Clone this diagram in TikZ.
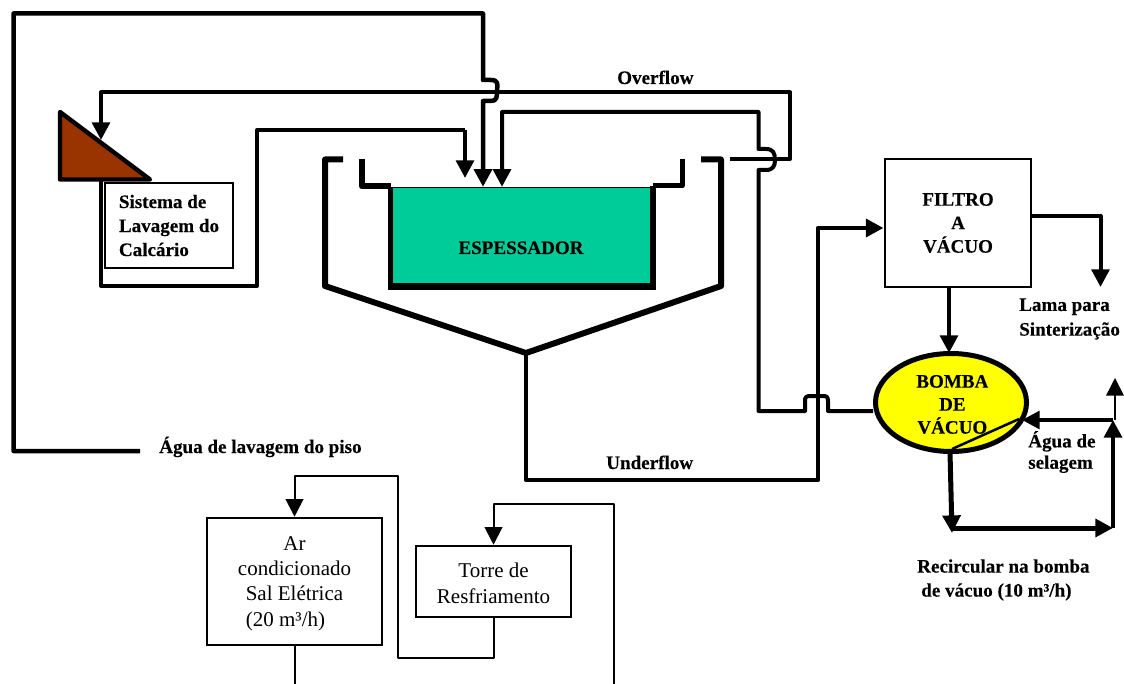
\documentclass[tikz,border=0pt]{standalone}
\usepackage{fontspec}
\setmainfont[BoldFeatures={FakeBold=0.25}]{Liberation Serif}
\usetikzlibrary{arrows.meta,shapes.geometric}
\definecolor{brownfill}{RGB}{153,51,0}
\definecolor{greenfill}{RGB}{0,204,153}
\definecolor{pumpfill}{RGB}{255,255,0}
\tikzset{
  pipe/.style={draw=black,line join=round,line width=#1*0.75pt},
  pipe/.default=4,
  head/.style={-{Triangle[width=13.2pt,length=13.2pt]}},
  bbox/.style={draw=black,fill=white,inner sep=0pt,align=center},
  lbl/.style={inner sep=0pt,align=left,font=\bfseries\fontsize{14.3}{18}\selectfont},
  plain/.style={font=\fontsize{15.75}{19}\selectfont},
}
\begin{document}
\begin{tikzpicture}[x=0.75pt,y=-0.75pt]
\useasboundingbox (0,0) rectangle (1124,684);
% waypoints
\coordinate (a0) at (140,451); \coordinate (a1) at (13.5,451); \coordinate (a2) at (13.5,13.5);
\coordinate (a3) at (483,13.5); \coordinate (a4) at (483,80); \coordinate (a5) at (491,80);
\coordinate (a6) at (491,101); \coordinate (a7) at (483,101);
\coordinate (o0) at (730,159); \coordinate (o1) at (790,159); \coordinate (o2) at (790,92.5);
\coordinate (o3) at (101,92.5); \coordinate (trihit) at (101,140);
\coordinate (s0) at (101,180); \coordinate (s1) at (101,286); \coordinate (s2) at (257,286);
\coordinate (s3) at (257,130); \coordinate (s4) at (465,130); \coordinate (s5) at (465,178);
\coordinate (t1) at (502,112); \coordinate (t2) at (758.5,112); \coordinate (t3) at (758.5,149);
\coordinate (t3b) at (766,149); \coordinate (t4b) at (766,170);
\coordinate (t4) at (758.5,170); \coordinate (t5) at (758.5,411); \coordinate (t6) at (805,411);
\coordinate (t7) at (828,411);
\coordinate (u0) at (526,353); \coordinate (u1) at (526,480); \coordinate (u2) at (818,480);
\coordinate (u3) at (818,228);
\coordinate (f1) at (1100.5,216);  \coordinate (f2) at (1100.5,287);
\coordinate (r2) at (952,528);
\coordinate (r3) at (1113,528); \coordinate (r4) at (1113,420); \coordinate (r5) at (1022,420);
\coordinate (r6) at (1115,420); \coordinate (r7) at (1115,378);
\coordinate (r1) at (952,533);
\coordinate (d0) at (952,449); \coordinate (d1) at (1019,419);
\coordinate (c1) at (294.5,476); \coordinate (c2) at (398,476); \coordinate (c3) at (398,658);
\coordinate (c4) at (493.5,658); \coordinate (c5) at (294.5,684);
\coordinate (e1) at (493.5,504); \coordinate (e2) at (614,504); \coordinate (e3) at (614,684);

% triangle
\coordinate (tri1) at (60,112); \coordinate (tri2) at (60,179.5); \coordinate (tri3) at (150,179.5);
\draw[line width=3.3pt,line join=round,fill=brownfill] (tri1) -- (tri2) -- (tri3) -- cycle;

% thickener
\node[fill=greenfill,draw=black,line width=1pt,inner sep=0pt,minimum width=262.5*0.75pt,minimum height=99*0.75pt,font=\bfseries\fontsize{14.3}{18}\selectfont] (esp) at (521,237) {\raisebox{-12.75pt}[0pt][0pt]{ESPESSADOR}};
\draw[line width=3.75pt] (390.5,187) -- (390.5,290);
\draw[line width=4.5pt] (653,186) -- (653,290);
\draw[line width=5.25pt] (387.5,286.5) -- (656,286.5);
\draw[pipe=6] (343,159.5) -- (325,159.5) -- (325,286) -- (u0) -- (721,286) -- (721,159.5) -- (701,159.5);
\draw[pipe=6] (362,159) -- (362,186.5) -- (391,186.5);
\draw[pipe=5] (653,186) -- (682,186) -- (682,159);

% boxes
\node[bbox,line width=1.9pt,lbl,align=left,minimum width=128*0.75pt,minimum height=85*0.75pt] (sis) at (169,225.5) {Sistema de\\Lavagem do\\Calcário};
\node[bbox,line width=2.2pt,font=\bfseries\fontsize{14.3}{17.6}\selectfont,minimum width=146*0.75pt,minimum height=128*0.75pt] (fil) at (958,223) {FILTRO\\A\\VÁCUO};
\node[bbox,line width=1.9pt,plain,minimum width=175*0.75pt,minimum height=127*0.75pt] (ar) at (294.5,581.5) {\rule{0pt}{13.5pt}Ar\\condicionado\\Sal Elétrica\\(20 m³/h)\hspace*{13.5pt}};
\node[bbox,line width=1.9pt,plain,minimum width=155*0.75pt,minimum height=71*0.75pt] (tor) at (493.5,581.5) {\rule{0pt}{13.5pt}Torre de\\Resfriamento};
\node[draw=black,line width=3.75pt,fill=pumpfill,ellipse,inner sep=0pt,minimum width=151*0.75pt,minimum height=98*0.75pt,align=center,font=\bfseries\fontsize{14.3}{17.25}\selectfont] (bom) at (951,402.5) {\rule{0pt}{12.4pt}\hspace*{2pt}BOMBA\\\hspace*{2pt}DE\\\hspace*{2pt}VÁCUO};

% connectors
\draw[pipe=4] (s0) -- (s1) -- (s2) -- (s3) -- (s4);
\draw[pipe=4,head] (s4) -- (s5);
\draw[pipe=4,head] (o0) -- (o1) -- (o2) -- (o3) -- (trihit);
\draw[pipe=4.5,head] (a0) -- (a1) -- (a2) -- (a3) -- (a4) -- (a5) .. controls (498,80) and (498,84) .. (497,90) .. controls (497,97) and (497,101) .. (a6) -- (a7) -- (a7 |- esp.north);
\draw[pipe=4,head] (t5 -| bom.west) -- (t7) -- (828,401) .. controls (828,396) and (826,396) .. (822,396) -- (811,396) .. controls (806,396) and (805,397) .. (805,401) -- (t6) -- (t5) -- (t4) -- (t4b) .. controls (773,170) and (775,166) .. (775,160) .. controls (775,153) and (773,149) .. (t3b) -- (t3) -- (t2) -- (t1) -- (t1 |- esp.north);
\draw[pipe=4.5,head] (u0) -- (u1) -- (u2) -- (u3) -- (u3 -| fil.west);

% filter outputs
\draw[pipe=4,head] (f1 -| fil.east) -- (f1) -- (f2);
\draw[pipe=4,head] (fil.south -| 949,0) -- (949,353);
% pump outputs
\draw[pipe=2.5] (d0) -- (d1);
\draw[pipe=5,head] (950,452) -- (r1);
\draw[pipe=5,head] (r2) -- (r3);
\draw[pipe=4.5,head] (r3) -- (r4);
\draw[pipe=4,head] (r4) -- (r5);
\draw[pipe=1.5,head] (r6) -- (r7);

% bottom loop
\draw[pipe=2,head] (tor.south) -- (c4) -- (c3) -- (c2) -- (c1) -- (ar.north);
\draw[pipe=2,head] (e3) -- (e2) -- (e1) -- (tor.north);
\draw[pipe=2] (ar.south) -- (c5);

% labels
\node[lbl,anchor=base west] (lbover) at (617,84) {Overflow};
\node[lbl,anchor=base west] (lbunder) at (606,469) {Underflow};
\node[lbl,anchor=base west] (lbpiso) at (159,453) {Água de lavagem do piso};
\node[lbl,anchor=west,font=\bfseries\fontsize{14.3}{18.5}\selectfont] (lblama) at (1019,319) {Lama para\\Sinterização};
\node[lbl,anchor=west,font=\bfseries\fontsize{14.3}{16}\selectfont] (lbsel) at (1028,452) {Água de\\selagem};
\node[lbl,anchor=west] (lbrec) at (917,580) {Recircular na bomba\\\hspace*{3pt}de vácuo (10 m³/h)};
\end{tikzpicture}
\end{document}
